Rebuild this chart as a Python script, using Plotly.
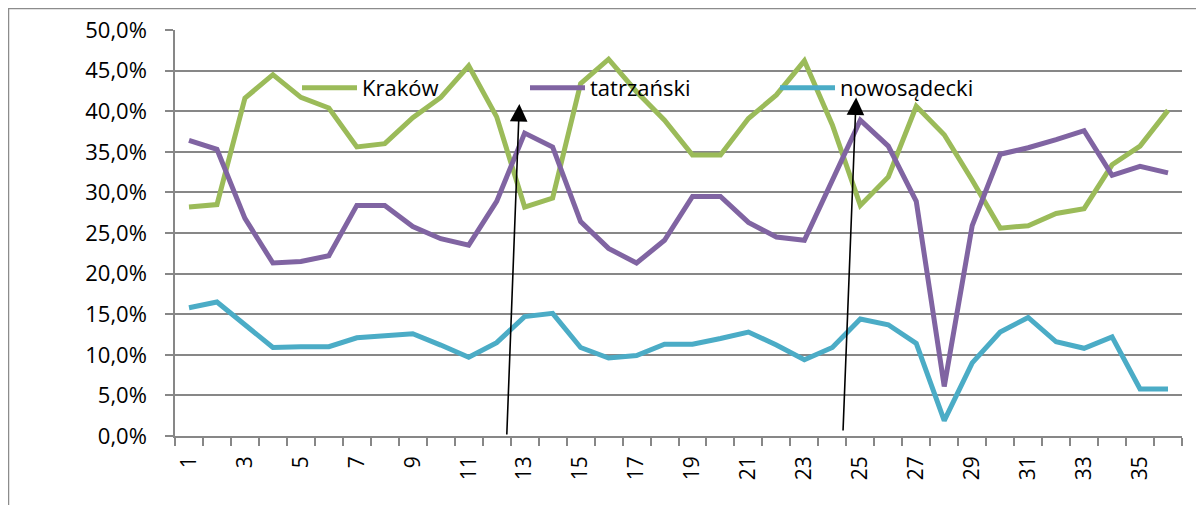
import plotly.graph_objects as go

periods = list(range(1, 37))
krakow = [28.2, 28.5, 41.6, 44.5, 41.7, 40.4, 35.6, 36.0, 39.2, 41.7, 45.6, 39.3,
          28.2, 29.3, 43.4, 46.4, 42.4, 38.9, 34.6, 34.6, 39.1, 42.0, 46.2, 38.3,
          28.4, 31.9, 40.6, 37.1, 31.5, 25.6, 25.9, 27.4, 28.0, 33.4, 35.7, 40.1]
tatrzanski = [36.4, 35.3, 26.8, 21.3, 21.5, 22.2, 28.4, 28.4, 25.8, 24.3, 23.5, 28.9,
              37.3, 35.6, 26.4, 23.1, 21.3, 24.1, 29.5, 29.5, 26.3, 24.5, 24.1, 31.5,
              38.9, 35.7, 28.9, 6.1, 25.9, 34.7, 35.5, 36.5, 37.6, 32.1, 33.2, 32.4]
nowosadecki = [15.8, 16.5, 13.7, 10.9, 11.0, 11.0, 12.1, 12.3, 12.6, 11.2, 9.7, 11.5,
               14.7, 15.1, 10.9, 9.6, 9.9, 11.3, 11.3, 12.0, 12.8, 11.2, 9.4, 10.9,
               14.4, 13.7, 11.4, 1.9, 9.0, 12.8, 14.6, 11.6, 10.8, 12.2, 5.8, 5.8]
series_names = ["Kraków", "tatrzański", "nowosądecki"]
series_colors = ["#9BBB59", "#8064A2", "#4BACC6"]
ytick_vals = [0, 5, 10, 15, 20, 25, 30, 35, 40, 45, 50]
ytick_text = ["0,0%", "5,0%", "10,0%", "15,0%", "20,0%", "25,0%", "30,0%",
              "35,0%", "40,0%", "45,0%", "50,0%"]
xtick_vals = list(range(1, 37, 2))
# arrows: (tail x, tail y, head x, head y) in data units
arrow_tail_x = [12.36, 24.38]
arrow_tail_y = [0.0, 0.5]
arrow_head_x = [12.81, 24.85]
arrow_head_y = [40.9, 41.7]

FONT = "Open Sans"
GRID = "#878787"

# page offset of the plot div (default body margin)
OFF = 8
W, H = 1204 - 2 * OFF, 513 - 2 * OFF
# plot area in page pixels
PX0, PX1, PY0, PY1 = 175, 1182, 30, 436
L, T = PX0 - OFF, PY0 - OFF
R, B = W - (PX1 - OFF), H - (PY1 - OFF)
pw, ph = PX1 - PX0, PY1 - PY0


def px2paper_x(px):
    return (px - PX0) / pw


def py2paper_y(py):
    return (PY1 - py) / ph


fig = go.Figure()
legends = ["legend", "legend2", "legend3"]
for name, vals, col, lg in zip(series_names, [krakow, tatrzanski, nowosadecki],
                               series_colors, legends):
    fig.add_trace(go.Scatter(x=periods, y=vals, mode="lines", name=name,
                             line=dict(color=col, width=5), legend=lg))

leg_common = dict(orientation="h", bgcolor="rgba(0,0,0,0)", borderwidth=0,
                  font=dict(family=FONT, size=22, color="#000000"),
                  itemwidth=55, yanchor="middle", xanchor="left", y=py2paper_y(88))
fig.update_layout(
    legend=dict(x=px2paper_x(297), **leg_common),
    legend2=dict(x=px2paper_x(525), **leg_common),
    legend3=dict(x=px2paper_x(775), **leg_common),
)

for tx, ty, hx, hy in zip(arrow_tail_x, arrow_tail_y, arrow_head_x, arrow_head_y):
    fig.add_annotation(x=hx, y=hy, ax=tx, ay=ty, xref="x", yref="y", axref="x", ayref="y",
                       text="", showarrow=True, arrowhead=2, arrowsize=2.2,
                       arrowwidth=1.6, arrowcolor="#000000", standoff=0)

# outer chart frame
fig.add_shape(type="rect", xref="paper", yref="paper",
              x0=px2paper_x(8.5), x1=px2paper_x(1260),
              y0=py2paper_y(560), y1=py2paper_y(8.5),
              line=dict(color="#8c8c8c", width=1.5), fillcolor="rgba(0,0,0,0)", layer="below")

fig.update_layout(
    width=W, height=H,
    margin=dict(l=L, r=R, t=T, b=B, autoexpand=False),
    paper_bgcolor="white", plot_bgcolor="white",
    font=dict(family=FONT, size=21, color="#000000"),
    showlegend=True,
)
fig.update_xaxes(range=[0.5, 36.5], tickmode="array", tickvals=xtick_vals,
                 ticktext=[str(v) for v in xtick_vals], tickangle=-90, ticks="",
                 ticklabelstandoff=10,
                 showgrid=False, zeroline=False, showline=True, linecolor=GRID, linewidth=1.5,
                 tickfont=dict(family=FONT, size=21),
                 minor=dict(tickmode="linear", tick0=0.5, dtick=1, ticks="outside",
                            ticklen=8, tickcolor=GRID, tickwidth=1.5, showgrid=False),
                 automargin=False)
fig.update_yaxes(range=[0, 50], tickmode="array", tickvals=ytick_vals, ticktext=ytick_text,
                 ticks="outside", ticklen=8, tickcolor=GRID, tickwidth=1.5,
                 ticklabelstandoff=14,
                 showgrid=True, gridcolor=GRID, gridwidth=1.5, zeroline=False,
                 showline=True, linecolor=GRID, linewidth=1.5,
                 tickfont=dict(family=FONT, size=22), automargin=False)

fig.write_html("out.html")
